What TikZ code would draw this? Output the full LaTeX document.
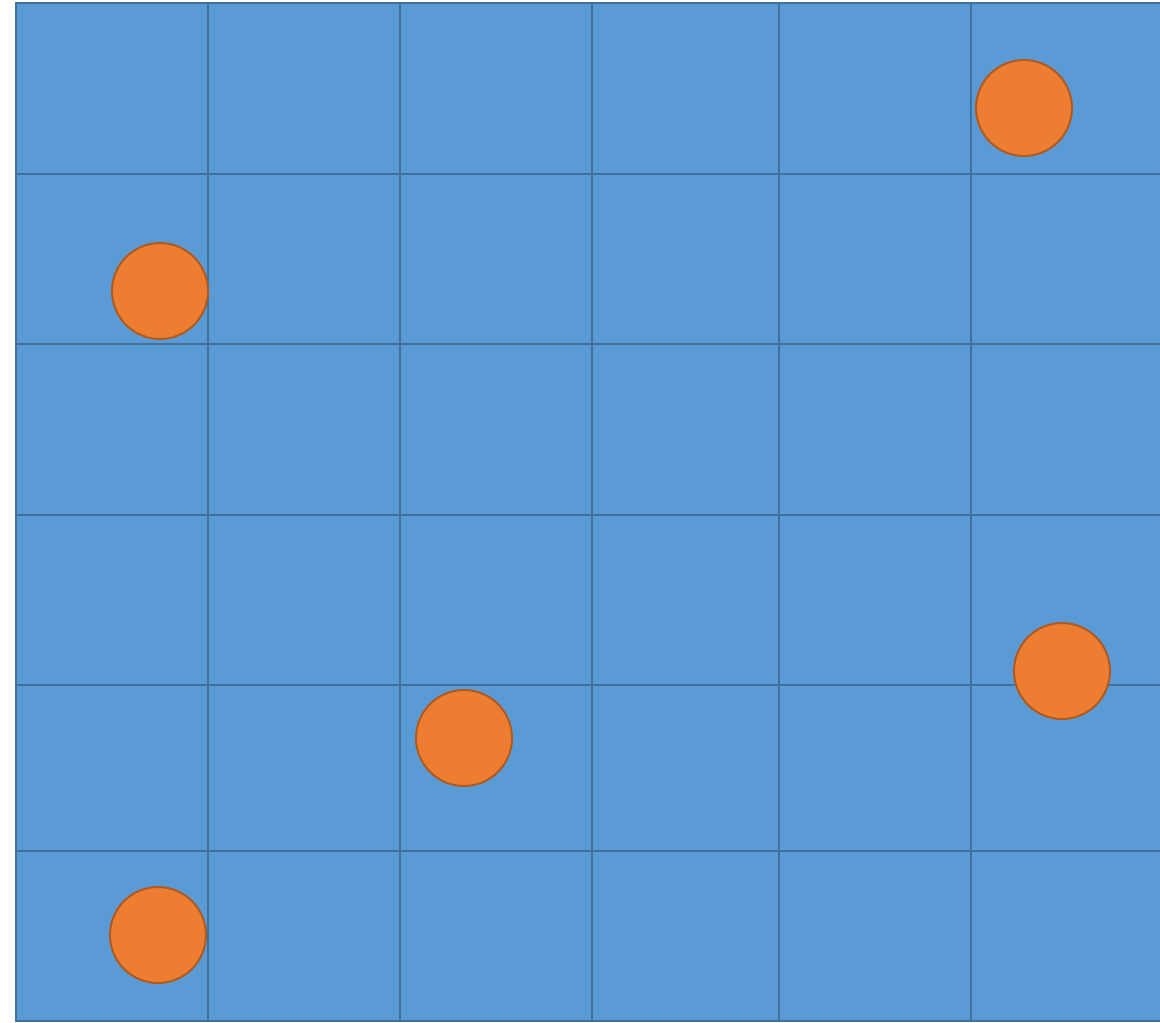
\documentclass[tikz,border=0pt]{standalone}
\usepackage{tikz}
\definecolor{cellblue}{HTML}{5B9BD5}
\definecolor{cellline}{HTML}{41719C}
\definecolor{dotorange}{HTML}{ED7D31}
\definecolor{dotline}{HTML}{AE5A21}

\begin{document}
\begin{tikzpicture}[x=1pt,y=-1pt,
  cell/.style={draw=cellline,fill=cellblue,line width=2.2pt},
  token/.style={circle,draw=dotline,fill=dotorange,line width=2pt,
    minimum size=96pt,inner sep=0pt}]
\useasboundingbox (0,0) rectangle (1160,1023);
% grid of cells
\foreach \xa/\xb in {16/208,208/400,400/592,592/779,779/971,971/1166}
  \foreach \ya/\yb in {3/174,174/344,344/515,515/685,685/851,851/1021}
    \draw[cell] (\xa,\ya) rectangle (\xb,\yb);
% tokens
\node[token] (topright) at (1024,108) {};
\node[token] (upperleft) at (160,291) {};
\node[token] (middle) at (464,738) {};
\node[token] (lowerright) at (1062,671) {};
\node[token] (bottomleft) at (158,935) {};
\end{tikzpicture}
\end{document}
